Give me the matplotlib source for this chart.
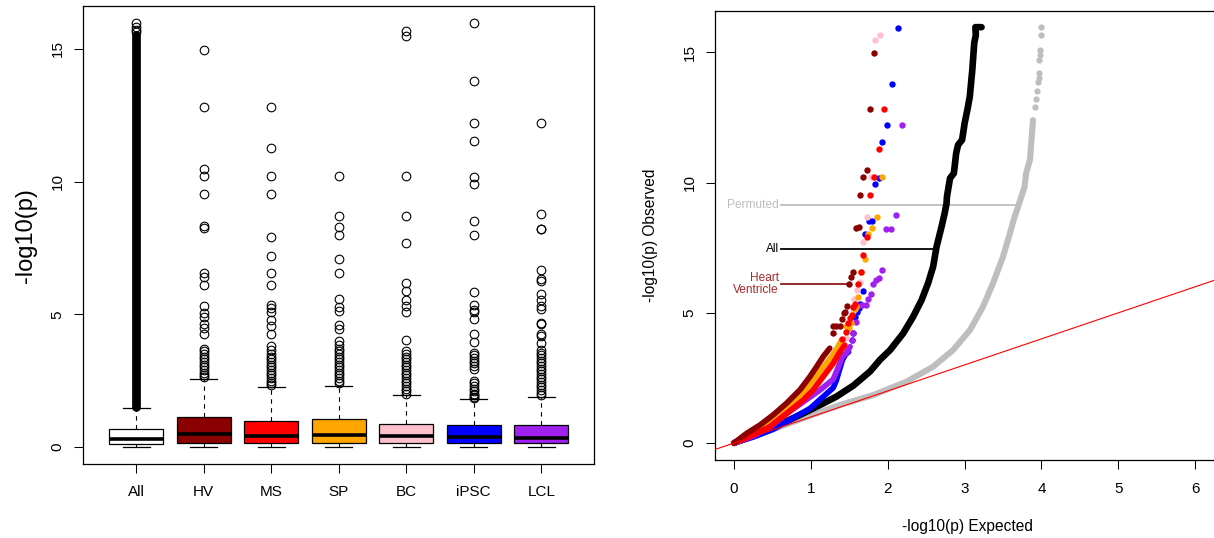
import matplotlib
matplotlib.use("Agg")
import matplotlib.pyplot as plt

plt.rcParams['font.family'] = ['Liberation Sans', 'DejaVu Sans']

# ---------------- left panel: boxplot of -log10(p) per tissue ----------------
groups = ["All", "HV", "MS", "SP", "BC", "iPSC", "LCL"]
q1 = [0.10, 0.17, 0.17, 0.17, 0.17, 0.17, 0.17]
med = [0.31, 0.49, 0.41, 0.44, 0.41, 0.37, 0.36]
q3 = [0.67, 1.15, 1.00, 1.05, 0.88, 0.84, 0.85]
whis_lo = [0, 0, 0, 0, 0, 0, 0]
whis_hi = [1.48, 2.58, 2.25, 2.31, 1.98, 1.83, 1.90]

out_all = [15.95, 15.8, 15.7, 15.62]
out_all_band = [1.5, 15.5]   # "All" has thousands of outliers forming a solid column
out_hv = [14.95, 12.82, 10.48, 10.22, 9.53, 8.33, 8.24, 6.56, 6.40, 6.09, 5.31,
          5.05, 4.88, 4.63, 4.50, 4.24, 3.70, 3.6, 3.5, 3.4, 3.3, 3.2, 3.1, 3.0,
          2.9, 2.8, 2.7, 2.65]
out_ms = [12.82, 11.27, 10.22, 9.53, 7.91, 7.21, 6.56, 6.09, 5.36, 5.23, 5.08,
          4.79, 4.56, 4.24, 3.81, 3.65, 3.5, 3.4, 3.3, 3.2, 3.1, 3.0, 2.9, 2.8,
          2.7, 2.6, 2.5, 2.4, 2.35]
out_sp = [10.22, 8.70, 8.28, 8.0, 7.08, 6.55, 5.59, 5.27, 5.14, 4.59, 4.43,
          3.98, 3.85, 3.7, 3.6, 3.5, 3.4, 3.3, 3.2, 3.1, 3.0, 2.9, 2.8, 2.7,
          2.6, 2.5, 2.4]
out_bc = [15.67, 15.48, 10.22, 8.70, 7.70, 6.16, 5.88, 5.53, 5.30, 5.08, 4.04,
          3.6, 3.5, 3.4, 3.3, 3.2, 3.1, 3.0, 2.9, 2.8, 2.7, 2.6, 2.5, 2.4, 2.3,
          2.2, 2.1, 2.0]
out_ipsc = [15.96, 13.79, 12.21, 11.54, 10.18, 9.92, 8.50, 8.0, 5.83, 5.34,
            5.17, 5.08, 4.82, 4.24, 3.94, 3.55, 3.45, 3.35, 3.25, 3.15, 3.05,
            2.95, 2.5, 2.4, 2.3, 2.2, 2.1, 2.0, 1.95, 1.9, 1.85]
out_lcl = [12.21, 8.77, 8.23, 8.22, 6.65, 6.34, 6.27, 5.75, 5.53, 5.30, 5.21,
           4.69, 4.63, 4.24, 4.17, 3.91, 3.65, 3.55, 3.45, 3.35, 3.25, 3.15,
           3.05, 2.95, 2.85, 2.75, 2.65, 2.55, 2.45, 2.35, 2.25, 2.15, 2.05, 1.95]
outliers = [out_all, out_hv, out_ms, out_sp, out_bc, out_ipsc, out_lcl]

box_colors = ["white", "darkred", "red", "orange", "pink", "blue", "#A020F0"]

# ---------------- right panel: QQ plot ----------------
# dense part of each series (overlapping points) and the scattered tail
all_x = [0, 0.25, 0.47, 0.68, 0.9, 1.12, 1.33, 1.55, 1.77, 1.9, 2.03, 2.2, 2.33,
         2.44, 2.525, 2.59, 2.635, 2.70, 2.74, 2.765, 2.77, 2.81, 2.86, 2.89,
         2.915, 2.967, 3.0, 3.04, 3.067, 3.10, 3.125, 3.146, 3.14, 3.22]
all_y = [0, 0.3, 0.55, 0.83, 1.14, 1.46, 1.78, 2.2, 2.75, 3.2, 3.57, 4.21, 4.85,
         5.49, 6.14, 6.77, 7.54, 8.31, 8.82, 9.21, 9.46, 10.17, 10.36, 11.13,
         11.45, 11.64, 12.28, 12.86, 13.3, 14.33, 15.36, 15.67, 15.97, 15.97]

perm_x = [0, 0.5, 1.0, 1.38, 1.81, 2.24, 2.59, 2.85, 3.07, 3.24, 3.37, 3.50,
          3.59, 3.65, 3.696, 3.78, 3.80, 3.85, 3.87, 3.89]
perm_y = [0, 0.52, 1.06, 1.46, 1.84, 2.35, 2.93, 3.57, 4.34, 5.24, 6.14, 7.16,
          8.06, 8.69, 9.08, 9.84, 10.36, 10.87, 11.64, 12.4]
perm_tx = [3.91, 3.935, 3.94, 3.95, 3.97, 3.97, 3.97, 3.975, 3.975, 3.99, 3.99]
perm_ty = [12.9, 13.2, 13.5, 13.87, 14.0, 14.2, 14.7, 14.9, 15.1, 15.67, 15.97]

hv_x = [0, 0.164, 0.337, 0.51, 0.684, 0.857, 0.987, 1.074, 1.16, 1.245]
hv_y = [0, 0.37, 0.69, 1.08, 1.53, 2.04, 2.55, 2.93, 3.32, 3.64]
hv_tx = [1.29, 1.29, 1.33, 1.38, 1.41, 1.43, 1.44, 1.47, 1.50, 1.52, 1.55,
         1.585, 1.62, 1.645, 1.68, 1.724, 1.771, 1.823]
hv_ty = [4.24, 4.51, 4.51, 4.51, 4.75, 4.98, 5.04, 5.27, 6.1, 6.36, 6.57,
         8.24, 8.31, 9.54, 10.23, 10.49, 12.83, 14.96]

ms_x = [0, 0.25, 0.467, 0.684, 0.90, 1.03, 1.16, 1.29, 1.377, 1.44]
ms_y = [0, 0.31, 0.63, 1.14, 1.65, 2.04, 2.55, 3.06, 3.5, 3.76]
ms_tx = [1.41, 1.45, 1.48, 1.51, 1.53, 1.55, 1.576, 1.615, 1.65, 1.68, 1.727,
         1.77, 1.819, 1.88, 1.95]
ms_ty = [4.0, 4.28, 4.6, 4.79, 4.92, 5.24, 5.33, 6.1, 6.57, 7.21, 7.9, 9.54,
         10.23, 11.28, 12.83]

sp_x = [0, 0.25, 0.47, 0.70, 0.90, 1.04, 1.17, 1.30, 1.40]
sp_y = [0, 0.36, 0.75, 1.35, 1.95, 2.45, 2.95, 3.45, 3.95]
sp_tx = [1.45, 1.50, 1.52, 1.58, 1.59, 1.615, 1.65, 1.70, 1.745, 1.80, 1.854,
         1.919]
sp_ty = [4.51, 4.43, 4.59, 5.14, 5.27, 5.60, 6.55, 7.08, 8.02, 8.24, 8.69, 10.23]

bc_x = [0, 0.2, 0.45, 0.7, 0.9, 1.1, 1.25, 1.38]
bc_y = [0, 0.28, 0.7, 1.3, 1.9, 2.6, 3.2, 3.6]
bc_tx = [1.45, 1.55, 1.563, 1.60, 1.64, 1.68, 1.724, 1.776, 1.836, 1.897]
bc_ty = [4.04, 5.08, 5.53, 5.88, 6.17, 7.71, 8.69, 10.23, 15.48, 15.66]

ipsc_x = [0, 0.25, 0.51, 0.77, 0.99, 1.16, 1.29, 1.33, 1.36, 1.41, 1.45, 1.49]
ipsc_y = [0, 0.23, 0.53, 0.96, 1.33, 1.78, 2.12, 2.40, 2.7, 3.19, 3.4, 3.5]
ipsc_tx = [1.53, 1.55, 1.57, 1.60, 1.62, 1.64, 1.68, 1.71, 1.76, 1.80, 1.83,
           1.88, 1.927, 1.984, 2.053, 2.13]
ipsc_ty = [3.94, 4.24, 4.85, 5.05, 5.17, 5.34, 5.85, 8.02, 8.52, 8.52, 9.94,
           10.17, 11.55, 12.22, 13.79, 15.95]

lcl_x = [0, 0.25, 0.467, 0.684, 0.90, 1.117, 1.29, 1.35, 1.41, 1.46, 1.51]
lcl_y = [0, 0.27, 0.62, 1.12, 1.58, 2.03, 2.45, 2.87, 3.32, 3.45, 3.7]
lcl_tx = [1.53, 1.55, 1.59, 1.615, 1.66, 1.72, 1.745, 1.776, 1.81, 1.85, 1.88,
          1.93, 1.98, 2.04, 2.11, 2.187]
lcl_ty = [3.96, 4.21, 4.66, 5.26, 5.3, 5.3, 5.52, 5.72, 6.1, 6.26, 6.33, 6.65,
          8.22, 8.22, 8.77, 12.22]

W, H = 1214, 538
fig = plt.figure(figsize=(W / 100, H / 100), dpi=100)

# ---- left: boxplot ----
ax1 = fig.add_axes([83.4 / W, (H - 464) / H, (594 - 83.4) / W, (464 - 6.2) / H])
stats = []
for i in range(len(groups)):
    stats.append(dict(label=groups[i], q1=q1[i], med=med[i], q3=q3[i],
                      whislo=whis_lo[i], whishi=whis_hi[i], fliers=outliers[i]))
pos = list(range(1, len(groups) + 1))
bp = ax1.bxp(stats, positions=pos, widths=0.8, capwidths=0.4, patch_artist=True,
             boxprops=dict(edgecolor='black', linewidth=0.9),
             medianprops=dict(color='black', linewidth=2.6, solid_capstyle='butt'),
             whiskerprops=dict(color='black', linewidth=0.8, linestyle=(0, (4, 4))),
             capprops=dict(color='black', linewidth=0.9),
             flierprops=dict(marker='o', markerfacecolor='none',
                             markeredgecolor='black', markersize=6.2,
                             markeredgewidth=0.8))
for patch, c in zip(bp['boxes'], box_colors):
    patch.set_facecolor(c)
ax1.vlines(1, out_all_band[0], out_all_band[1], color='black', linewidth=6.3,
           capstyle='round', zorder=3)
ax1.set_xlim(0.22, 7.78)
ax1.set_ylim(-0.636, 16.6)
ax1.set_yticks([0, 5, 10, 15])
ax1.set_xticks(pos)
ax1.set_xticklabels(groups)
ax1.tick_params(axis='both', direction='out', length=6.5, width=0.75,
                labelsize=11, pad=7)
ax1.tick_params(axis='x', pad=8.3)
ax1.tick_params(axis='y', labelrotation=90)
for lab in ax1.get_yticklabels():
    lab.set_va('center')
ax1.set_ylabel('-log10(p)', fontsize=17, va='center')
ax1.yaxis.set_label_coords(-0.112, 0.5)
for s in ax1.spines.values():
    s.set_linewidth(0.9)

# ---- right: QQ plot ----
ax2 = fig.add_axes([715.4 / W, (H - 459.8) / H, (1219 - 715.4) / W, (459.8 - 11.3) / H])
ax2.plot(perm_x, perm_y, '-', color='#BEBEBE', lw=4.4, solid_capstyle='round', zorder=2)
ax2.plot(perm_tx, perm_ty, 'o', color='#BEBEBE', ms=4.5, mew=0, zorder=2)
ax2.plot(all_x, all_y, '-', color='black', lw=4.8, solid_capstyle='round', zorder=3)

series = [(ipsc_x, ipsc_y, ipsc_tx, ipsc_ty, 'blue'),
          (lcl_x, lcl_y, lcl_tx, lcl_ty, '#A020F0'),
          (bc_x, bc_y, bc_tx, bc_ty, 'pink'),
          (sp_x, sp_y, sp_tx, sp_ty, 'orange'),
          (ms_x, ms_y, ms_tx, ms_ty, 'red'),
          (hv_x, hv_y, hv_tx, hv_ty, 'darkred')]
for cx, cy, tx, ty, c in series:
    ax2.plot(cx, cy, '-', color=c, lw=4.1, solid_capstyle='round', zorder=4)
    ax2.plot(tx, ty, 'o', color=c, ms=4.6, mew=0, zorder=4)

ax2.axline((0, 0), slope=1, color='red', lw=0.8, zorder=5)

# annotation labels with leader lines
ax2.plot([0.61, 3.65], [9.14, 9.14], color='#BEBEBE', lw=1.3, zorder=1)
ax2.text(0.58, 9.14, 'Permuted', color='#BEBEBE', fontsize=8.6, ha='right', va='center')
ax2.plot([0.61, 2.62], [7.45, 7.45], color='black', lw=1.3, zorder=1)
ax2.text(0.58, 7.45, 'All', color='black', fontsize=8.6, ha='right', va='center')
ax2.plot([0.61, 1.485], [6.1, 6.1], color='#8B1A1A', lw=1.3, zorder=1)
ax2.text(0.58, 6.1, 'Heart\nVentricle', color='#A52A2A', fontsize=8.6, ha='right',
         va='center', linespacing=1.05)

ax2.set_xlim(-0.243, 6.31)
ax2.set_ylim(-0.645, 16.58)
ax2.set_xticks([0, 1, 2, 3, 4, 5, 6])
ax2.set_yticks([0, 5, 10, 15])
ax2.tick_params(axis='both', direction='out', length=6.5, width=0.75,
                labelsize=11, pad=7)
ax2.tick_params(axis='x', pad=9.5)
ax2.tick_params(axis='y', labelrotation=90)
for lab in ax2.get_yticklabels():
    lab.set_va('center')
ax2.spines['right'].set_visible(False)
for s in ax2.spines.values():
    s.set_linewidth(0.9)
ax2.set_xlabel('-log10(p) Expected', fontsize=11.2, va='center')
ax2.xaxis.set_label_coords(0.5, -0.149)
ax2.set_ylabel('-log10(p) Observed', fontsize=11.2, va='center')
ax2.yaxis.set_label_coords(-0.128, 0.5)

fig.savefig('out.png', dpi=100)
